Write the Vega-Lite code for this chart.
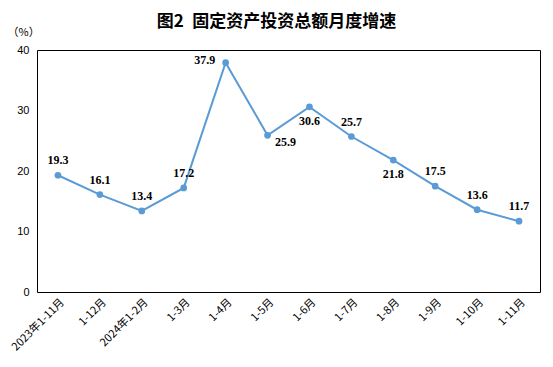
{
  "$schema": "https://vega.github.io/schema/vega-lite/v6.json",
  "width": 503,
  "height": 242,
  "autosize": {"type": "none"},
  "padding": {"left": 37, "top": 50, "right": 13, "bottom": 75},
  "title": {"text": "图2\u2002固定资产投资总额月度增速", "font": "Noto Sans CJK SC", "fontSize": 17, "fontWeight": "bold", "color": "#000000", "offset": 16, "dy": 21, "dx": -12, "anchor": "middle"},
  "config": {"view": {"stroke": "#000000", "strokeWidth": 1}},
  "data": {"values": [
    {"m": "2023年1-11月", "v": 19.3},
    {"m": "1-12月", "v": 16.1},
    {"m": "2024年1-2月", "v": 13.4},
    {"m": "1-3月", "v": 17.2},
    {"m": "1-4月", "v": 37.9},
    {"m": "1-5月", "v": 25.9},
    {"m": "1-6月", "v": 30.6},
    {"m": "1-7月", "v": 25.7},
    {"m": "1-8月", "v": 21.8},
    {"m": "1-9月", "v": 17.5},
    {"m": "1-10月", "v": 13.6},
    {"m": "1-11月", "v": 11.7}
  ]},
  "encoding": {
    "x": {"field": "m", "type": "ordinal", "sort": null, "scale": {"type": "point", "padding": 0.5},
      "axis": {"title": null, "labelAngle": -45, "ticks": false, "domain": false, "labelPadding": 4, "labelFont": "Noto Sans CJK SC", "labelFontSize": 11, "labelColor": "#000000"}},
    "y": {"field": "v", "type": "quantitative", "scale": {"domain": [0, 40]},
      "axis": {"values": [0, 10, 20, 30, 40], "grid": false, "ticks": false, "domain": false, "labelPadding": 8, "labelFont": "Liberation Sans", "labelFontSize": 11, "labelColor": "#000000",
        "title": "（%）", "titleAngle": 0, "titleX": -30, "titleY": -18, "titleAlign": "left", "titleBaseline": "middle", "titleFont": "Noto Sans CJK SC", "titleFontSize": 11, "titleFontWeight": "normal", "titleColor": "#000000"}}
  },
  "layer": [
    {"mark": {"type": "line", "color": "#5B9BD5", "strokeWidth": 2}},
    {"mark": {"type": "point", "filled": true, "color": "#5B9BD5", "size": 45, "opacity": 1}},
    {"transform": [{"filter": {"field": "m", "oneOf": ["2023年1-11月", "1-12月", "2024年1-2月", "1-3月", "1-7月", "1-9月", "1-10月", "1-11月"]}}],
      "mark": {"type": "text", "dy": -15, "font": "Liberation Serif", "fontSize": 12, "fontWeight": "bold", "color": "#000000"},
      "encoding": {"text": {"field": "v", "format": ".1f"}}},
    {"transform": [{"filter": {"field": "m", "oneOf": ["1-6月", "1-8月"]}}],
      "mark": {"type": "text", "dy": 14, "font": "Liberation Serif", "fontSize": 12, "fontWeight": "bold", "color": "#000000"},
      "encoding": {"text": {"field": "v", "format": ".1f"}}},
    {"transform": [{"filter": {"field": "m", "oneOf": ["1-5月"]}}],
      "mark": {"type": "text", "dx": 18, "dy": 7, "font": "Liberation Serif", "fontSize": 12, "fontWeight": "bold", "color": "#000000"},
      "encoding": {"text": {"field": "v", "format": ".1f"}}},
    {"transform": [{"filter": {"field": "m", "oneOf": ["1-4月"]}}],
      "mark": {"type": "text", "dx": -21, "dy": -3, "font": "Liberation Serif", "fontSize": 12, "fontWeight": "bold", "color": "#000000"},
      "encoding": {"text": {"field": "v", "format": ".1f"}}}
  ]
}
